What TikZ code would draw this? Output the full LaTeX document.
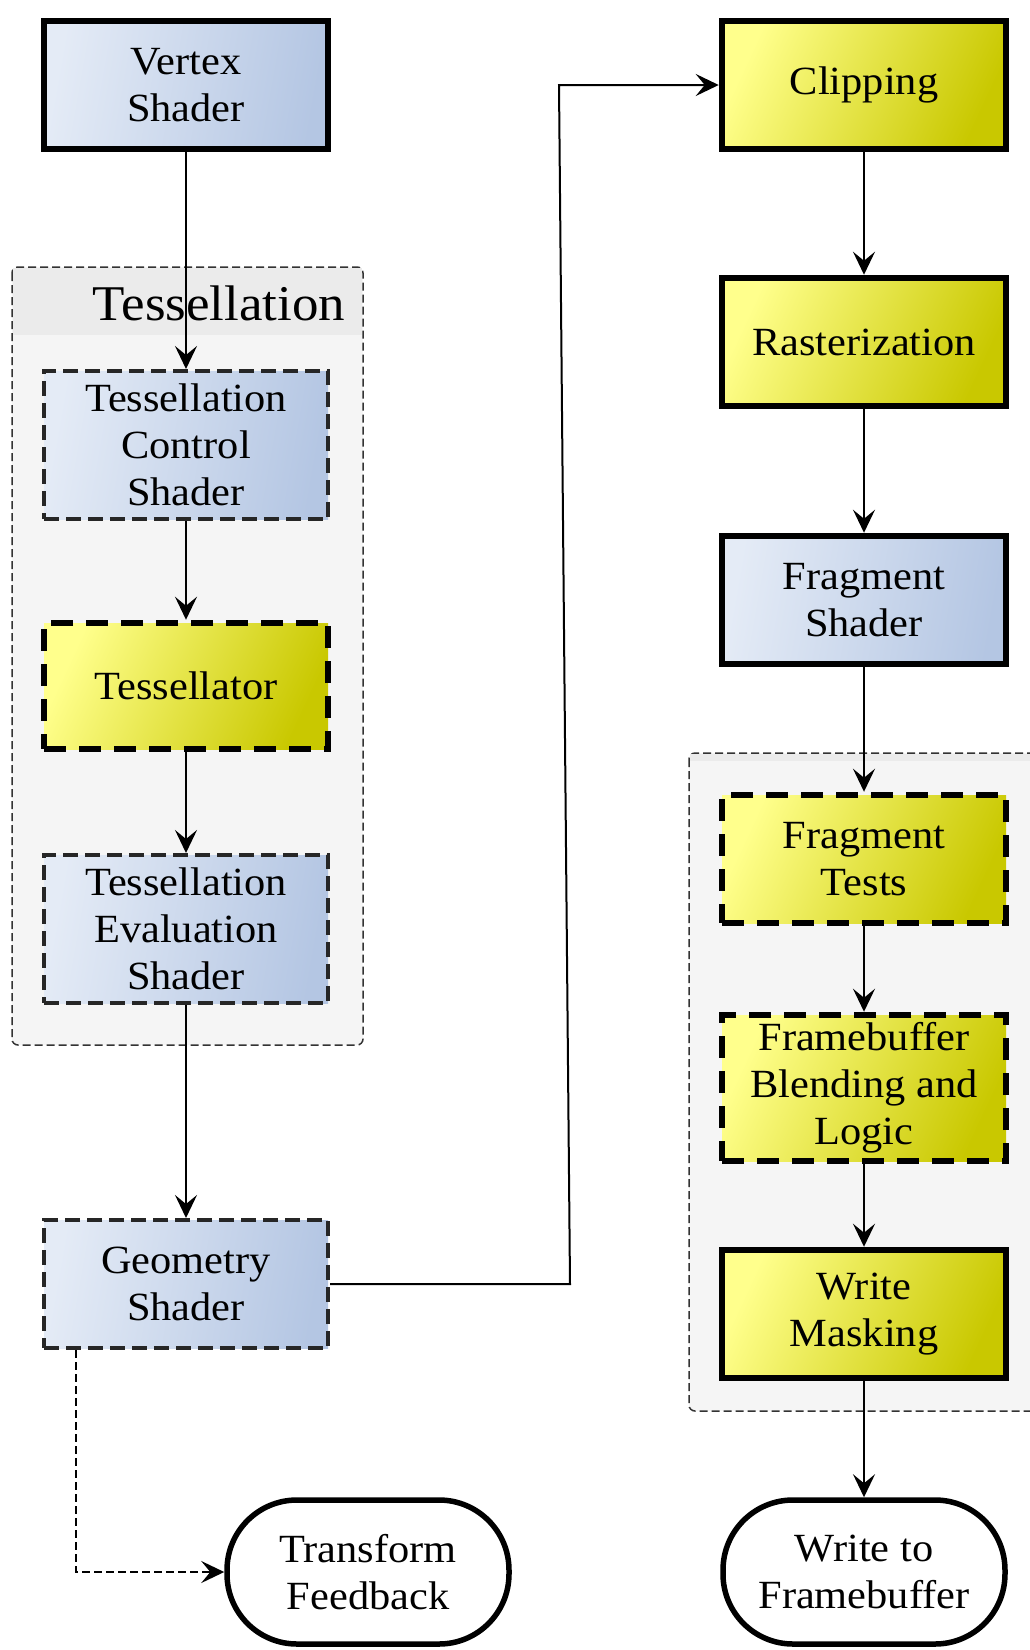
\documentclass[tikz,border=0pt]{standalone}
\usepackage{fontspec}
\setmainfont{Liberation Serif}[FakeStretch=1.06]
\usepackage{xcolor}
\usetikzlibrary{positioning,arrows.meta}

\definecolor{bluelight}{HTML}{E4EBF6}
\definecolor{bluedark}{HTML}{B4C6E3}
\definecolor{yellowlight}{HTML}{FFFF8C}
\definecolor{yellowdark}{HTML}{C9C800}
\definecolor{groupfill}{HTML}{F5F5F5}
\definecolor{grouphead}{HTML}{EBEBEB}

\tikzset{
  stage/.style={rectangle, minimum width=284pt, minimum height=128pt,
    inner sep=0pt, align=center, font=\fontsize{40}{47}\selectfont},
  shader/.style={stage, left color=bluelight, right color=bluedark, shading angle=80},
  fixed/.style={stage, left color=yellowlight, right color=yellowdark, shading angle=65},
  solidline/.style={draw=black, line width=6.5pt},
  thickdash/.style={draw=black, line width=6.5pt, dash pattern=on 22pt off 13pt},
  thindash/.style={draw=black!85, line width=4pt, dash pattern=on 15pt off 7pt},
  terminal/.style={rectangle, rounded corners=70pt, draw=black, line width=5.5pt,
    fill=white, minimum width=282pt, minimum height=144pt, align=center,
    font=\fontsize{40}{47}\selectfont},
  group/.style={draw=black!80, line width=1.5pt, dash pattern=on 8pt off 4pt,
    fill=groupfill, rounded corners=6pt},
  flow/.style={draw=black, line width=2pt,
    -{Stealth[length=23pt,width=22pt,inset=9pt]}},
  flowdash/.style={flow, dash pattern=on 8pt off 4pt},
}

\begin{document}
\begin{tikzpicture}[x=1pt,y=-1pt]
  \useasboundingbox (0,0) rectangle (1030,1650);
  % groups
  \draw[group] (12,267) rectangle (363,1045);
  \fill[grouphead] (13,268) rectangle (362,335);
  \node[anchor=base, font=\fontsize{50}{56}\selectfont] (tesstitle) at (219,320) {Tessellation};
  \draw[group] (689,753) rectangle (1045,1411);
  \fill[grouphead] (690,754) rectangle (1045,761);
  %
  \node[shader, solidline] (vs) at (186,85) {Vertex\\Shader};
  \node[shader, thindash, minimum height=148pt] (tcs) at (186,445) {Tessellation\\Control\\Shader};
  \node[fixed, thickdash, minimum height=126pt] (tsl) at (186,686) {Tessellator};
  \node[shader, thindash, minimum height=148pt] (tes) at (186,929) {Tessellation\\Evaluation\\Shader};
  \node[shader, thindash] (geo) at (186,1284) {Geometry\\Shader};
  \node[terminal] (tf) at (368,1572) {Transform\\Feedback};
  %
  \node[fixed, solidline] (clip) at (864,85) {Clipping};
  \node[fixed, solidline] (rast) at (864,342) {Rasterization};
  \node[shader, solidline] (fsh) at (864,600) {Fragment\\Shader};
  \node[fixed, thickdash] (ftst) at (864,859) {Fragment\\Tests};
  \node[fixed, thickdash, minimum height=146pt] (fbl) at (864,1088) {Framebuffer\\Blending and\\Logic};
  \node[fixed, solidline] (wmask) at (864,1314) {Write\\Masking};
  \node[terminal] (wfb) at (864,1572) {Write to\\Framebuffer};
  %
  \coordinate (gbend) at (570,1284);
  \coordinate (cbend) at (559,85);
  \coordinate (tfbend) at (76,1572);
  %
  \draw[flow] (vs) -- (tcs);
  \draw[flow] (tcs) -- (tsl);
  \draw[flow] (tsl) -- (tes);
  \draw[flow] (tes) -- (geo);
  \draw[flow] (geo) -- (gbend) -- (cbend) -- (clip);
  \draw[flowdash] (geo.south -| tfbend) -- (tfbend) -- (tf);
  \draw[flow] (clip) -- (rast);
  \draw[flow] (rast) -- (fsh);
  \draw[flow] (fsh) -- (ftst);
  \draw[flow] (ftst) -- (fbl);
  \draw[flow] (fbl) -- (wmask);
  \draw[flow] (wmask) -- (wfb);
\end{tikzpicture}
\end{document}
